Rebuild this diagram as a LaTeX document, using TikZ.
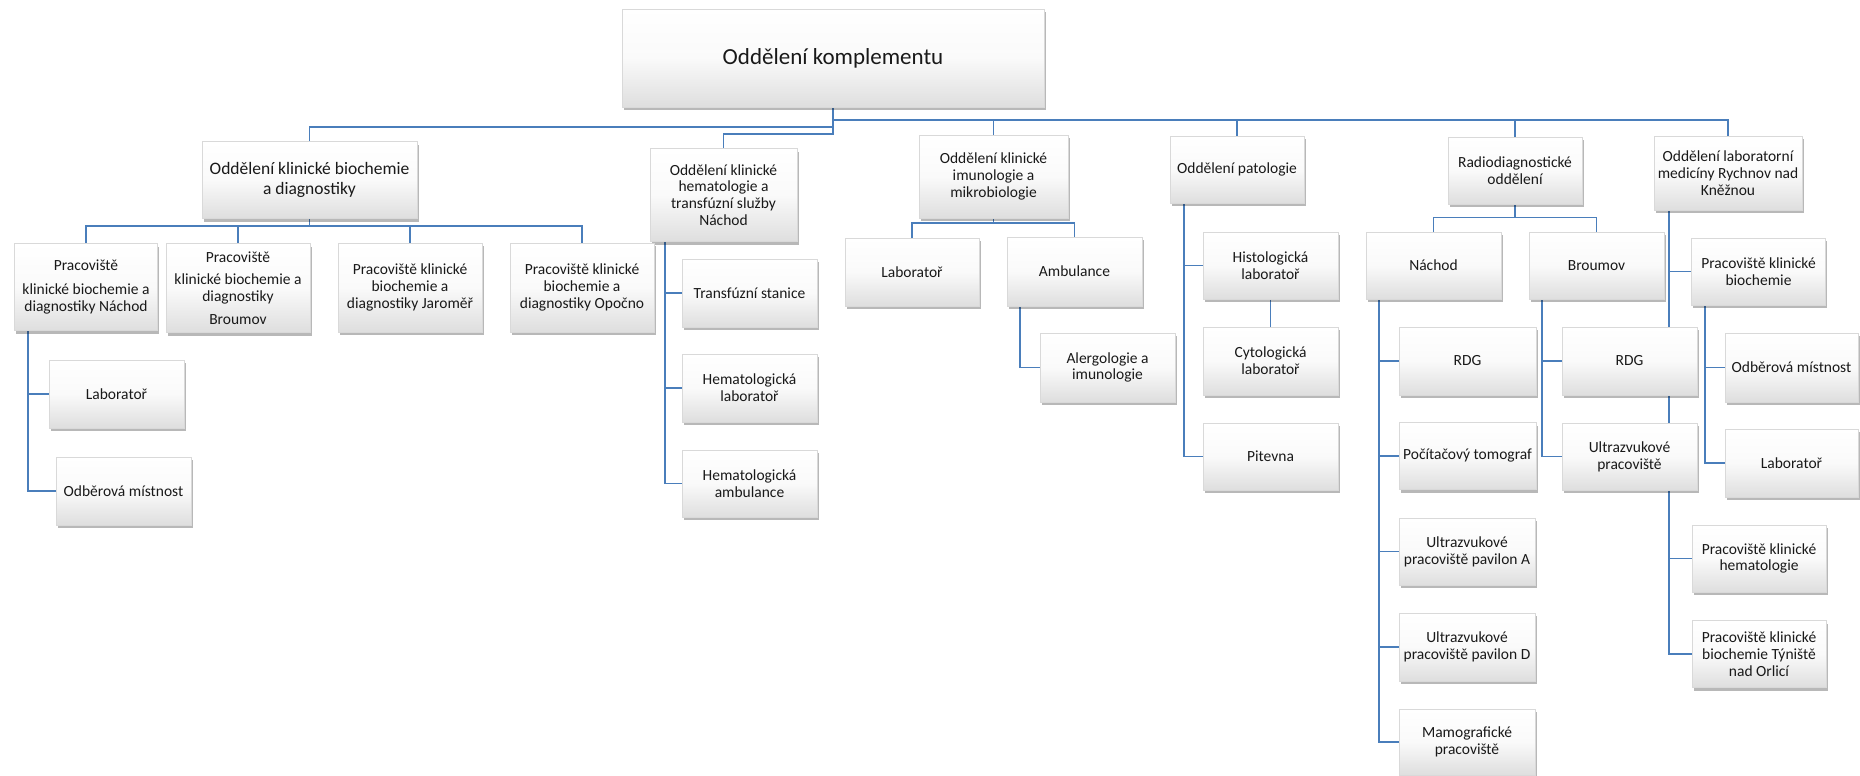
\documentclass[tikz,border=0pt]{standalone}
\usepackage{fontspec}
\setmainfont{Carlito}
\usetikzlibrary{shadows}
\pgfdeclarelayer{back}
\pgfdeclarelayer{bg}
\pgfsetlayers{back,bg,main}
\definecolor{linecol}{RGB}{74,126,187}
\definecolor{boxbot}{RGB}{222,222,222}
\begin{document}
\begin{tikzpicture}[x=1pt,y=-1pt,
  box/.style={draw=black!15, line width=0.5pt, top color=white, bottom color=boxbot, middle color=black!2,
    drop shadow={shadow xshift=1.5pt, shadow yshift=-3pt, fill=black, opacity=0.28},
    align=center, inner sep=2pt, text=black!90, font=\fontsize{15.5}{16.8}\selectfont},
  conn/.style={draw=linecol, line width=1.8pt}]
\useasboundingbox (0,0) rectangle (1860,776);
\begin{pgfonlayer}{back}
\fill[white] (0,0) rectangle (1860,776);
\end{pgfonlayer}

% level 0
\node[box, minimum width=422pt, minimum height=98pt, font=\fontsize{23}{27}\selectfont] (root) at (833,58) {Oddělení komplementu};

% level 1
\node[box, minimum width=215pt, minimum height=77pt, font=\fontsize{17.5}{19.5}\selectfont] (B) at (309.5,180) {Oddělení klinické biochemie\\a diagnostiky};
\node[box, minimum width=147pt, minimum height=93pt] (H) at (723.5,195) {Oddělení klinické\\hematologie a\\transfúzní služby\\Náchod};
\node[box, minimum width=149pt, minimum height=83pt] (I) at (993.5,176.5) {Oddělení klinické\\imunologie a\\mikrobiologie};
\node[box, minimum width=134pt, minimum height=67pt] (P) at (1237,169.5) {Oddělení patologie};
\node[box, minimum width=134pt, minimum height=67pt] (R) at (1515,170.5) {Radiodiagnostické\\oddělení};
\node[box, minimum width=148pt, minimum height=74pt] (Y) at (1728,173) {Oddělení laboratorní\\medicíny Rychnov nad\\Kněžnou};

% biochemie
\node[box, minimum width=143pt, minimum height=87pt] (B1) at (86,287) {Pracoviště\\[7pt]klinické biochemie a\\diagnostiky Náchod};
\node[box, minimum width=144pt, minimum height=89pt] (B2) at (238,288) {Pracoviště\\[6pt]klinické biochemie a\\diagnostiky\\[6pt]Broumov};
\node[box, minimum width=144pt, minimum height=89pt] (B3) at (410,287.5) {Pracoviště klinické\\biochemie a\\diagnostiky Jaroměř};
\node[box, minimum width=144pt, minimum height=89pt] (B4) at (582,287.5) {Pracoviště klinické\\biochemie a\\diagnostiky Opočno};
\node[box, minimum width=135pt, minimum height=68pt] (B1a) at (116.5,394) {Laboratoř};
\node[box, minimum width=135pt, minimum height=68pt] (B1b) at (123.5,491) {Odběrová místnost};

% hematologie
\node[box, minimum width=135pt, minimum height=68pt] (H1) at (749.5,293) {Transfúzní stanice};
\node[box, minimum width=135pt, minimum height=68pt] (H2) at (749.5,388) {Hematologická\\laboratoř};
\node[box, minimum width=135pt, minimum height=67pt] (H3) at (749.5,483.5) {Hematologická\\ambulance};

% imunologie
\node[box, minimum width=134pt, minimum height=68pt] (I1) at (912,272) {Laboratoř};
\node[box, minimum width=135pt, minimum height=69pt] (I2) at (1074.5,271.5) {Ambulance};
\node[box, minimum width=135pt, minimum height=69pt] (I2a) at (1107.5,367.5) {Alergologie a\\imunologie};

% patologie
\node[box, minimum width=135pt, minimum height=67pt] (P1) at (1270.5,265.5) {Histologická\\laboratoř};
\node[box, minimum width=135pt, minimum height=68pt] (P2) at (1270.5,361) {Cytologická\\laboratoř};
\node[box, minimum width=135pt, minimum height=67pt] (P3) at (1270.5,456.5) {Pitevna};

% radiodiagnostika
\node[box, minimum width=135pt, minimum height=67pt] (RN) at (1433.5,265.5) {Náchod};
\node[box, minimum width=135pt, minimum height=67pt] (RB) at (1596.5,265.5) {Broumov};
\node[box, minimum width=137pt, minimum height=68pt] (RN1) at (1467.5,361) {RDG};
\node[box, minimum width=137pt, minimum height=67pt] (RN2) at (1467.5,456) {Počítačový tomograf};
\node[box, minimum width=136pt, minimum height=67pt] (RN3) at (1467,551.5) {Ultrazvukové\\pracoviště pavilon A};
\node[box, minimum width=136pt, minimum height=68pt] (RN4) at (1467,647) {Ultrazvukové\\pracoviště pavilon D};
\node[box, minimum width=136pt, minimum height=66pt] (RN5) at (1467,742) {Mamografické\\pracoviště};
\node[box, minimum width=135pt, minimum height=68pt] (RB1) at (1629.5,361) {RDG};
\node[box, minimum width=135pt, minimum height=67pt] (RB2) at (1629.5,456.5) {Ultrazvukové\\pracoviště};

% Rychnov
\node[box, minimum width=134pt, minimum height=67pt] (Y1) at (1758.5,271.5) {Pracoviště klinické\\biochemie};
\node[box, minimum width=133pt, minimum height=69pt] (Y1a) at (1791.5,367.5) {Odběrová místnost};
\node[box, minimum width=133pt, minimum height=68pt] (Y1b) at (1791.5,463) {Laboratoř};
\node[box, minimum width=134pt, minimum height=67pt] (Y2) at (1759,558.5) {Pracoviště klinické\\hematologie};
\node[box, minimum width=134pt, minimum height=67pt] (Y3) at (1759,654) {Pracoviště klinické\\biochemie Týniště\\nad Orlicí};

\begin{pgfonlayer}{bg}
% top level
\draw[conn] (root.south) -- ([yshift=-27pt]root.south) -| (H.north);
\draw[conn] ([yshift=-20pt]root.south) -| (B.north);
\draw[conn] ([yshift=-13pt]root.south) -| (I.north);
\draw[conn] ([yshift=-13pt]root.south) -| (P.north);
\draw[conn] ([yshift=-13pt]root.south) -| (R.north);
\draw[conn] ([yshift=-13pt]root.south) -| (Y.north);
% biochemie
\draw[conn] (B.south) -- ([yshift=-7.5pt]B.south) -| (B1.north);
\draw[conn] ([yshift=-7.5pt]B.south) -| (B2.north);
\draw[conn] ([yshift=-7.5pt]B.south) -| (B3.north);
\draw[conn] ([yshift=-7.5pt]B.south) -| (B4.north);
\draw[conn] ([xshift=14pt]B1.south west) |- (B1a.west);
\draw[conn] ([xshift=14pt]B1.south west) |- (B1b.west);
% hematologie
\draw[conn] ([xshift=15pt]H.south west) |- (H1.west);
\draw[conn] ([xshift=15pt]H.south west) |- (H2.west);
\draw[conn] ([xshift=15pt]H.south west) |- (H3.west);
% imunologie
\draw[conn] (I.south) -- ([yshift=-4.7pt]I.south) -| (I1.north);
\draw[conn] ([yshift=-4.7pt]I.south) -| (I2.north);
\draw[conn] ([xshift=13.5pt]I2.south west) |- (I2a.west);
% patologie
\draw[conn] ([xshift=14pt]P.south west) |- (P1.west);
\draw[conn] ([xshift=14pt]P.south west) |- (P3.west);
\draw[conn] (P1.south) -- (P2.north);
% radiodiagnostika
\draw[conn] (R.south) -- ([yshift=-13.3pt]R.south) -| (RN.north);
\draw[conn] ([yshift=-13.3pt]R.south) -| (RB.north);
\draw[conn] ([xshift=13pt]RN.south west) |- (RN1.west);
\draw[conn] ([xshift=13pt]RN.south west) |- (RN2.west);
\draw[conn] ([xshift=13pt]RN.south west) |- (RN3.west);
\draw[conn] ([xshift=13pt]RN.south west) |- (RN4.west);
\draw[conn] ([xshift=13pt]RN.south west) |- (RN5.west);
\draw[conn] ([xshift=13pt]RB.south west) |- (RB1.west);
\draw[conn] ([xshift=13pt]RB.south west) |- (RB2.west);
% Rychnov
\draw[conn] ([xshift=15.5pt]Y.south west) |- (Y1.west);
\draw[conn] ([xshift=15.5pt]Y.south west) |- (Y2.west);
\draw[conn] ([xshift=15.5pt]Y.south west) |- (Y3.west);
\draw[conn] ([xshift=13.5pt]Y1.south west) |- (Y1a.west);
\draw[conn] ([xshift=13.5pt]Y1.south west) |- (Y1b.west);
\end{pgfonlayer}
\end{tikzpicture}
\end{document}
